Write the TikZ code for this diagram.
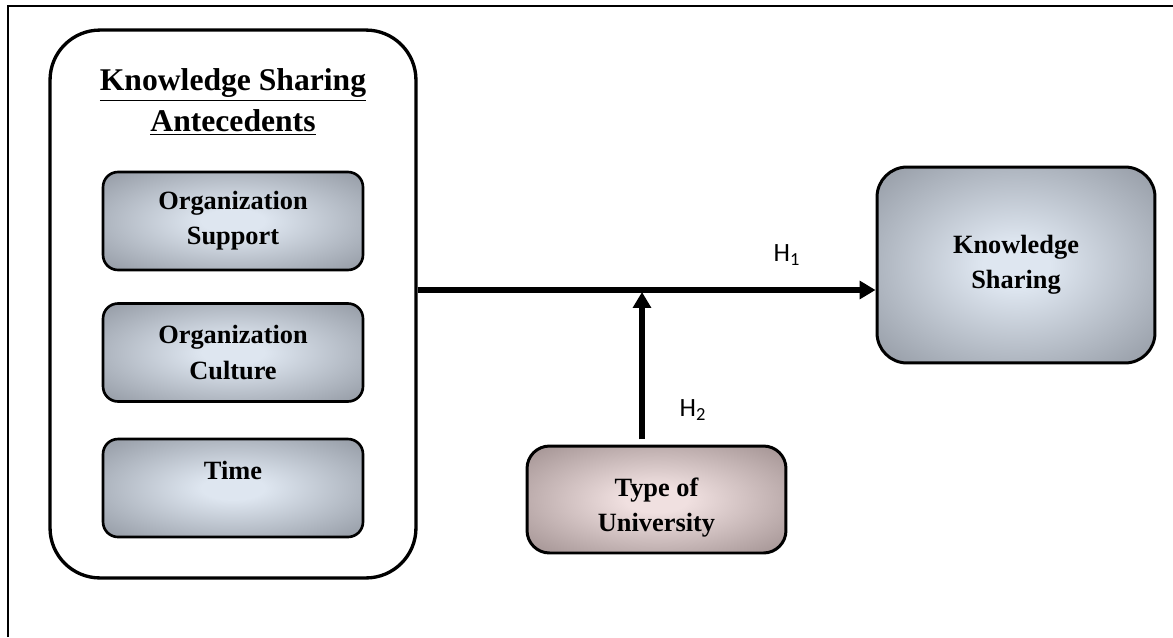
\documentclass[tikz,border=0pt]{standalone}
\usepackage{fontspec}
\setmainfont{Liberation Serif}
\newfontfamily\hypfont{Carlito}
\usepackage{tikz}
\usetikzlibrary{arrows.meta}
\usetikzlibrary{calc}

\definecolor{glowin}{RGB}{222,230,240}
\definecolor{glowout}{RGB}{126,132,142}
\definecolor{rosein}{RGB}{240,224,224}
\definecolor{roseout}{RGB}{138,122,122}
\pgfdeclareradialshading{grayglow}{\pgfpoint{0bp}{0bp}}{color(0bp)=(glowin); color(6bp)=(glowin); color(44bp)=(glowout); color(75bp)=(glowout)}
\pgfdeclareradialshading{roseglow}{\pgfpoint{0bp}{0bp}}{color(0bp)=(rosein); color(6bp)=(rosein); color(44bp)=(roseout); color(75bp)=(roseout)}

\tikzset{
	antebox/.style={draw, line width=1.9pt, rounded corners=1cm, minimum width=7.32cm, minimum height=10.96cm},
	factor/.style={draw, line width=1.5pt, rounded corners=0.3cm, shading=grayglow, minimum width=5.2cm, minimum height=1.96cm, align=center, font=\fontsize{15}{20}\selectfont\bfseries},
	outcome/.style={factor, rounded corners=0.6cm, line width=1.7pt, minimum width=5.56cm, minimum height=3.92cm},
	moderator/.style={factor, rounded corners=0.45cm, line width=1.7pt, shading=roseglow, minimum width=5.18cm, minimum height=2.14cm},
	hyp/.style={font=\hypfont\fontsize{15}{18}\selectfont},
	link/.style={line width=2.9pt, -{Triangle[length=9pt,width=10pt]}}
}

\begin{document}
\begin{tikzpicture}[x=0.02cm, y=-0.02cm]
		\useasboundingbox (0,0) rectangle (1173,637);
		\draw[line width=1.1pt] (8,637) -- (8,6) -- (1173,6);
		\node[antebox] (ante) at (233,304) {};
		\node[align=center, font=\fontsize{18}{23.5}\selectfont\bfseries] (antetitle) at (233,102) {\underline{Knowledge Sharing}\\\underline{Antecedents}};
		\node[factor] (support) at (233,221) {Organization\\Support};
		\node[factor] (culture) at (233,352.5) {Organization\\Culture};
		\node[factor] (time) at (233,488) {Time\\~};
		\node[outcome] (ks) at (1016,265) {Knowledge\\Sharing};
		\node[moderator] (tou) at (656.5,499.5) {~\\Type of\\University};
		\coordinate (meet) at (642,292);
		\draw[link] (ante.east |- 0,290) -- (ks.west |- 0,290);
		\draw[link, line width=3.4pt, shorten <=3pt] (tou.north -| meet) -- (meet);
		\node[hyp] (h1) at (787,255) {H\textsubscript{1}};
		\node[hyp] (h2) at (693,410) {H\textsubscript{2}};
	\end{tikzpicture}
\end{document}
